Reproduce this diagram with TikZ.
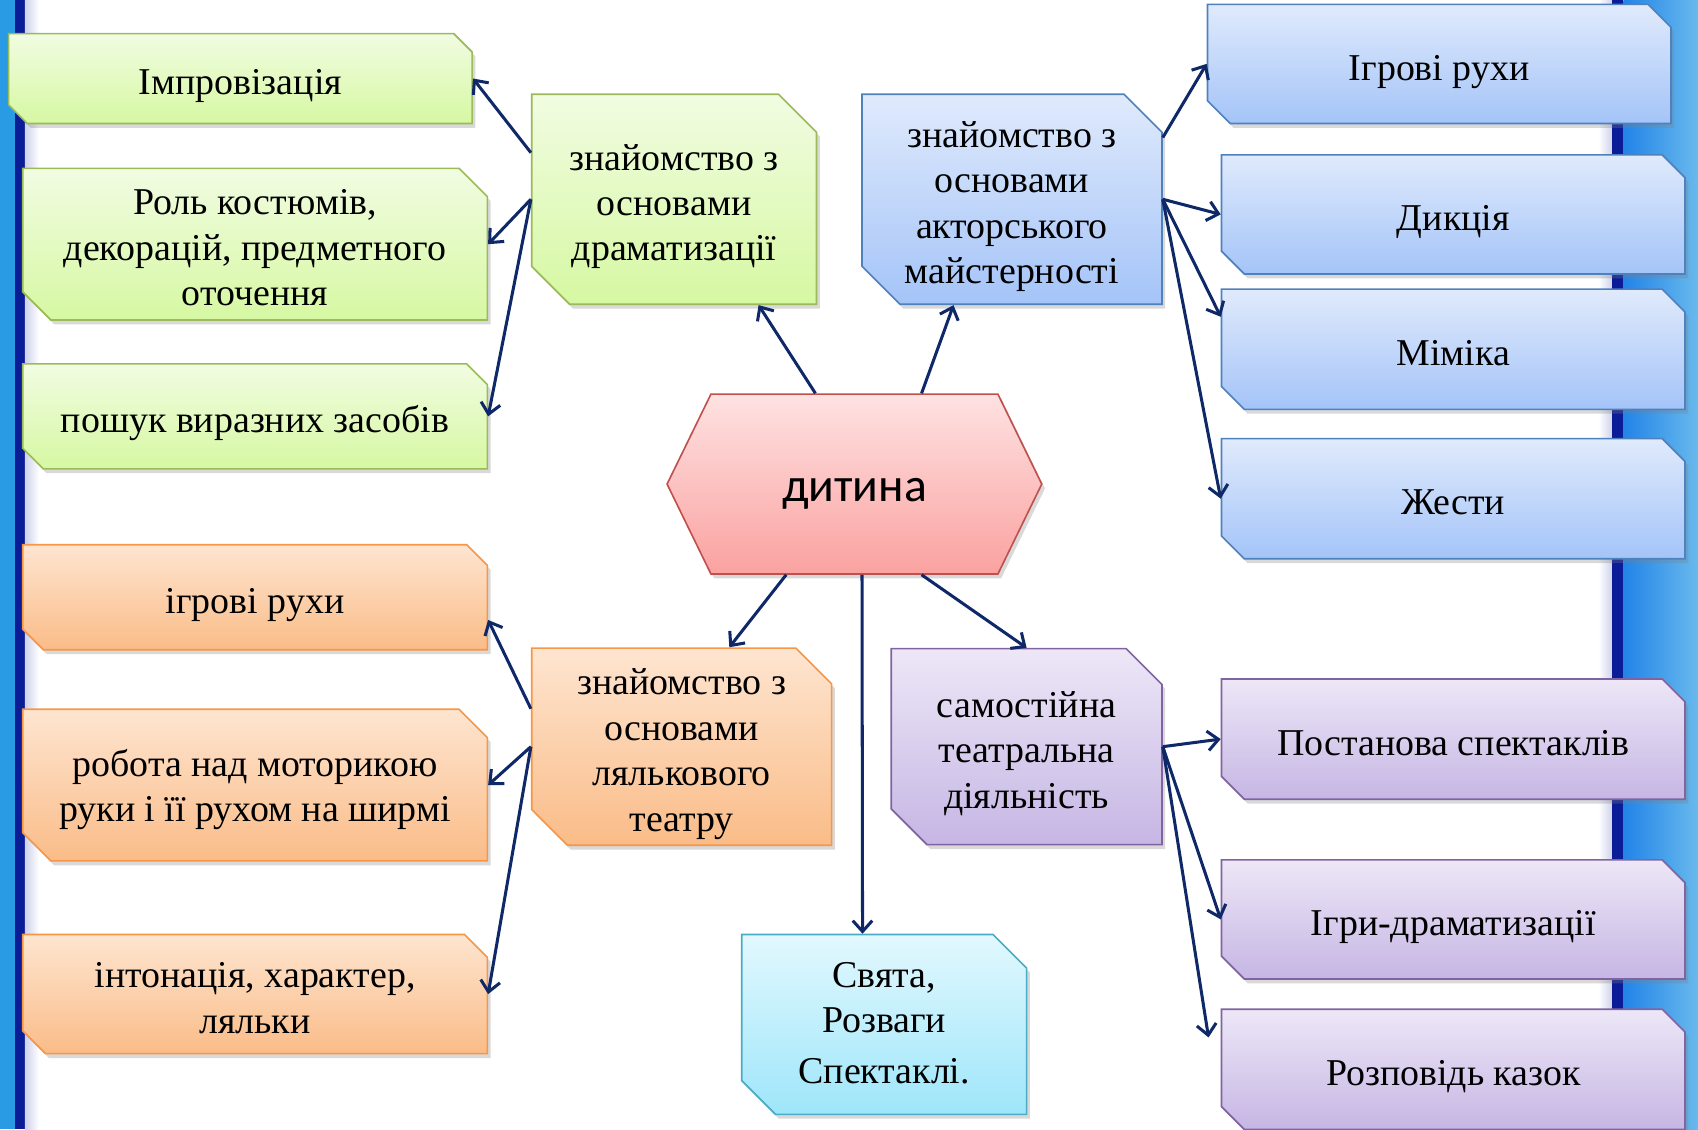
\documentclass[tikz,border=0pt]{standalone}
\usepackage{fontspec}
\setmainfont{Liberation Serif}
\newfontfamily\calfont{Carlito}
\usetikzlibrary{shapes.misc,shapes.symbols,shadows,arrows.meta}

\definecolor{arrowblue}{RGB}{14,40,104}
\definecolor{gline}{RGB}{155,187,89}
\definecolor{gtop}{RGB}{241,252,226}
\definecolor{gbot}{RGB}{214,248,162}
\definecolor{bline}{RGB}{79,129,189}
\definecolor{btop}{RGB}{224,234,252}
\definecolor{bbot}{RGB}{164,196,248}
\definecolor{oline}{RGB}{247,150,70}
\definecolor{otop}{RGB}{254,229,208}
\definecolor{obot}{RGB}{250,188,136}
\definecolor{pline}{RGB}{128,100,162}
\definecolor{ptop}{RGB}{237,231,247}
\definecolor{pbot}{RGB}{198,182,228}
\definecolor{cline}{RGB}{75,172,198}
\definecolor{ctop}{RGB}{226,248,254}
\definecolor{cbot}{RGB}{158,230,250}
\definecolor{rline}{RGB}{192,80,77}
\definecolor{rtop}{RGB}{254,226,226}
\definecolor{rbot}{RGB}{250,162,160}
\definecolor{stripe}{RGB}{10,28,150}
\definecolor{sky}{RGB}{40,155,228}

\newcommand\topstrut{\rule{0pt}{40pt}}
\newcommand\botstrut{\rule[-10pt]{0pt}{0pt}}

\begin{document}
\begin{tikzpicture}[x=1pt,y=-1pt,
	box/.style={chamfered rectangle, chamfered rectangle corners={north east,south west},
		line width=1.5pt, align=center, inner sep=0pt,
		font=\fontsize{35}{42}\selectfont,
		execute at begin node=\topstrut, execute at end node=\botstrut,
		drop shadow={shadow xshift=3pt,shadow yshift=-4pt,opacity=.3}},
	cut/.style={chamfered rectangle xsep=#1},
	gbox/.style={box, draw=gline, top color=gtop, bottom color=gbot},
	bbox/.style={box, draw=bline, top color=btop, bottom color=bbot},
	obox/.style={box, draw=oline, top color=otop, bottom color=obot},
	pbox/.style={box, draw=pline, top color=ptop, bottom color=pbot},
	cbox/.style={box, draw=cline, top color=ctop, bottom color=cbot},
	link/.style={draw=arrowblue, line width=2.8pt, -{Straight Barb[length=10pt,width=18pt]}}]

	\useasboundingbox (0,0) rectangle (1568,1043);
	\fill[sky] (0,0) rectangle (14,1043);
	\fill[stripe] (14,0) rectangle (23,1043);
	\shade[left color=stripe!20, right color=white] (23,0) rectangle (36,1043);
	\shade[left color=white, right color=stripe!20] (1476,0) rectangle (1489,1043);
	\fill[stripe] (1489,0) rectangle (1499,1043);
	\shade[left color=sky!85!blue, right color=sky!70] (1499,0) rectangle (1568,1043);

	\node[gbox, cut=14pt, minimum width=428pt, minimum height=83pt] (G1) at (222,72.5) {Імпровізація};
	\node[gbox, cut=23pt, minimum width=429pt, minimum height=139pt] (G2) at (235.5,225.5) {\topstrut Роль костюмів,\\декорацій, предметного\\оточення};
	\node[gbox, cut=16pt, minimum width=429pt, minimum height=97pt] (G3) at (235.5,384.5) {пошук виразних засобів};
	\node[gbox, cut=32pt, minimum width=263pt, minimum height=194pt] (GC) at (622.5,184) {\topstrut знайомство з\\основами\\драматизації};

	\node[bbox, cut=32pt, minimum width=277pt, minimum height=194pt] (BC) at (934.5,184) {\topstrut знайомство з\\основами\\акторського\\майстерності};
	\node[bbox, cut=18pt, minimum width=428pt, minimum height=110pt] (B1) at (1329,59) {Ігрові рухи};
	\node[bbox, cut=18pt, minimum width=428pt, minimum height=110pt] (B2) at (1342,198) {Дикція};
	\node[bbox, cut=18pt, minimum width=428pt, minimum height=111pt] (B3) at (1342,322.5) {Міміка};
	\node[bbox, cut=18pt, minimum width=428pt, minimum height=111pt] (B4) at (1342,460.5) {Жести};

	\node[signal, signal to=east and west, signal pointer angle=128, draw=rline, line width=1.5pt,
		top color=rtop, bottom color=rbot, minimum width=346pt, minimum height=166pt, inner sep=0pt,
		text height=42pt, text depth=10pt,
		drop shadow={shadow xshift=3pt,shadow yshift=-4pt,opacity=.3},
		font=\calfont\fontsize{44}{50}\selectfont] (child) at (789,447) {дитина};

	\node[obox, cut=16pt, minimum width=429pt, minimum height=97pt] (O1) at (235.5,551.5) {ігрові рухи};
	\node[obox, cut=23pt, minimum width=429pt, minimum height=140pt] (O2) at (235.5,725) {\rule{0pt}{36pt}робота над моторикою\\руки і її рухом на ширмі};
	\node[obox, cut=18pt, minimum width=429pt, minimum height=110pt] (O3) at (235.5,918) {\topstrut інтонація, характер,\\ляльки};
	\node[obox, cut=30pt, minimum width=277pt, minimum height=181pt] (OC) at (629.5,689.5) {\topstrut знайомство з\\основами\\лялькового\\театру};

	\node[cbox, cut=28pt, minimum width=263pt, minimum height=166pt] (C) at (816.5,946) {\rule{0pt}{30pt}Свята,\\Розваги\\[5pt]Спектаклі.};

	\node[pbox, cut=30pt, minimum width=250pt, minimum height=181pt] (PC) at (948,689.5) {\topstrut самостійна\\театральна\\діяльність};
	\node[pbox, cut=18pt, minimum width=428pt, minimum height=111pt] (P1) at (1342,682.5) {Постанова спектаклів};
	\node[pbox, cut=18pt, minimum width=428pt, minimum height=110pt] (P2) at (1342,849) {Ігри-драматизації};
	\node[pbox, cut=18pt, minimum width=428pt, minimum height=111pt] (P3) at (1342,987.5) {Розповідь казок};
	\coordinate (P3end) at (1116,958);

	\draw[link] ([xshift=-36pt]child.north) -- ([xshift=78pt]GC.south);
	\draw[link] ([xshift=62pt]child.north) -- ([xshift=-54pt]BC.south);
	\draw[link] ([xshift=-63pt]child.south) -- ([xshift=44pt]OC.north);
	\draw[link] ([xshift=7pt]child.south) -- ([xshift=-20pt]C.north);
	\draw[link] ([xshift=62pt]child.south) -- (PC.north);

	\draw[link] ([yshift=43pt]GC.west) -- (G1.east);
	\draw[link] (GC.west) -- (G2.east);
	\draw[link] (GC.west) -- (G3.east);

	\draw[link] ([yshift=57pt]BC.east) -- (B1.west);
	\draw[link] (BC.east) -- (B2.west);
	\draw[link] (BC.east) -- ([yshift=30pt]B3.west);
	\draw[link] (BC.east) -- (B4.west);

	\draw[link] ([yshift=35pt]OC.west) -- ([yshift=-21pt]O1.east);
	\draw[link] (OC.west) -- (O2.east);
	\draw[link] (OC.west) -- (O3.east);

	\draw[link] (PC.east) -- (P1.west);
	\draw[link] (PC.east) -- (P2.west);
	\draw[link] (PC.east) -- (P3end);
\end{tikzpicture}
\end{document}
